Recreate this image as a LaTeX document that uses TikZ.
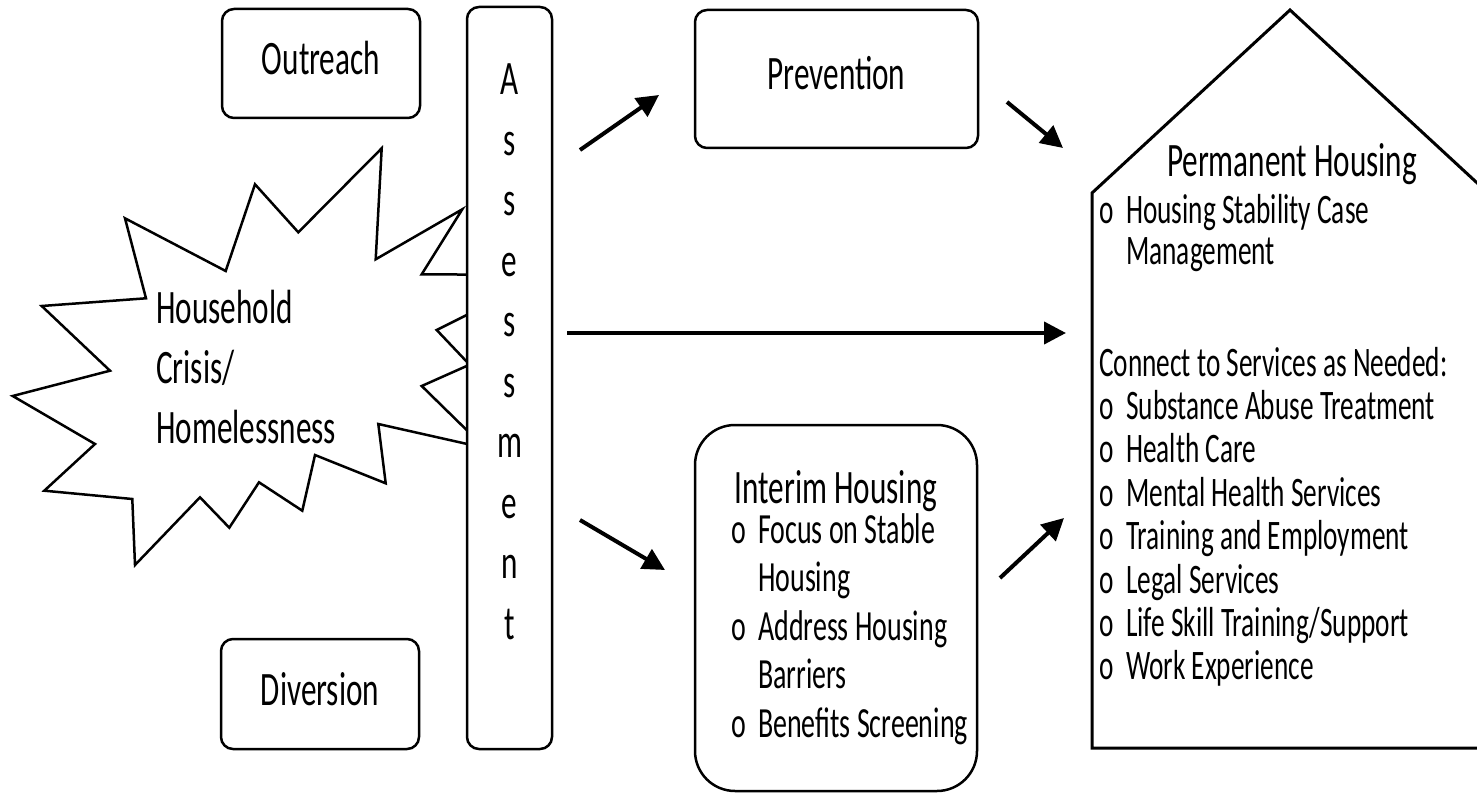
\documentclass[tikz,border=0pt]{standalone}
\usepackage{fontspec}
\setmainfont{Carlito}[FakeStretch=0.65]
\usetikzlibrary{
  arrows.meta,
  positioning
}

\newcommand{\bul}{\makebox[27pt][l]{o}}
\newcommand{\hang}{\makebox[27pt]{}}

\begin{document}
\begin{tikzpicture}[
  x=1pt, y=-1pt,
  box/.style={
    draw, rounded corners=12pt, fill=white, line width=2.5pt,
    inner sep=0pt, text height=22pt, text depth=0pt,
    font=\fontsize{48}{60}\selectfont
  },
  big/.style={font=\fontsize{48}{60}\selectfont, inner sep=0pt},
  list/.style={
    font=\fontsize{42}{43.4}\selectfont, inner sep=0pt,
    text width=380pt, align=flush left, anchor=base west
  },
  arr/.style={-{Triangle[length=22pt,width=22pt]}, line width=4pt},
]
\useasboundingbox (0,0) rectangle (1477,794);

% crisis burst
\draw[line width=2.5pt, fill=white]
  (125,218.3) -- (225.7,271) -- (255,184.3) -- (298.3,232.3) -- (381.7,148.3)
  -- (375.7,259.3) -- (462.3,209.3) -- (421.7,274.3) -- (546,275) -- (466.7,315)
  -- (436.7,330) -- (469.6,364.7) -- (421.7,386) -- (485,448) -- (378.3,424)
  -- (385.7,483.3) -- (315,455) -- (302.3,510.7) -- (259,482.3) -- (229.3,527.7)
  -- (200,497.3) -- (135,565) -- (132.3,499) -- (44.3,490.7) -- (95,444)
  -- (12.7,396) -- (110,370.7) -- (41.7,306) -- (146,298.3) -- cycle;
\node[big, text width=220pt, align=flush left, anchor=base west] (crisis) at (156,323)
  {Household\\Crisis/\\Homelessness};

\node[box, minimum width=198pt, minimum height=109pt] (outreach)   at (321,63.5) {Outreach};
\node[box, minimum width=198pt, minimum height=110pt] (diversion)  at (320,694)  {Diversion};
\node[box, minimum width=85pt,  minimum height=742pt] (assess)     at (509.5,378) {};
\node[big, text width=60pt, align=center, anchor=base,
  font=\fontsize{48}{60.5}\selectfont] (assesstxt) at (509.5,95)
  {A\\s\\s\\e\\s\\s\\m\\e\\n\\t};
\node[box, minimum width=283pt, minimum height=138pt] (prevention) at (836.5,79) {Prevention};

% interim housing
\node[box, rounded corners=40pt, minimum width=282pt, minimum height=366pt] (interim) at (836,608) {};
\node[big, anchor=base] (interimhead) at (836,503) {Interim Housing};
\node[list, font=\fontsize{43}{48.5}\selectfont] (interimlist) at (731,543)
  {\bul Focus on Stable\\\hang Housing\\\bul Address Housing\\\hang Barriers\\\bul Benefits Screening};

% permanent housing
\begin{scope}
\clip (0,0) rectangle (1477,794);
\draw[line width=3pt] (1092,748) -- (1092,193) -- (1290,10) -- (1488,193) -- (1488,748) -- cycle;
\end{scope}
\node[big, anchor=base] (permhead) at (1292,177) {Permanent Housing};
\node[list, font=\fontsize{42}{41}\selectfont] (permcase) at (1099,224)
  {\bul Housing Stability Case\\\hang Management};
\node[list] (permsvc) at (1099,376)
  {Connect to Services as Needed:\\
   \bul Substance Abuse Treatment\\
   \bul Health Care\\
   \bul Mental Health Services\\
   \bul Training and Employment\\
   \bul Legal Services\\
   \bul Life Skill Training/Support\\
   \bul Work Experience};

% arrow ends
\coordinate (asmt-prev) at (580,150);
\coordinate (prev-in)   at (659,95);
\coordinate (prev-out)  at (1007,102);
\coordinate (perm-in1)  at (1063,148);
\coordinate (asmt-perm) at (567,333);
\coordinate (perm-in2)  at (1066,333);
\coordinate (asmt-int)  at (580,520);
\coordinate (int-in)    at (665,570);
\coordinate (int-out)   at (1000,578);
\coordinate (perm-in3)  at (1064,518);

\draw[arr] (asmt-prev) -- (prev-in);
\draw[arr] (prev-out)  -- (perm-in1);
\draw[arr] (asmt-perm) -- (perm-in2);
\draw[arr] (asmt-int)  -- (int-in);
\draw[arr] (int-out)   -- (perm-in3);

\end{tikzpicture}
\end{document}
